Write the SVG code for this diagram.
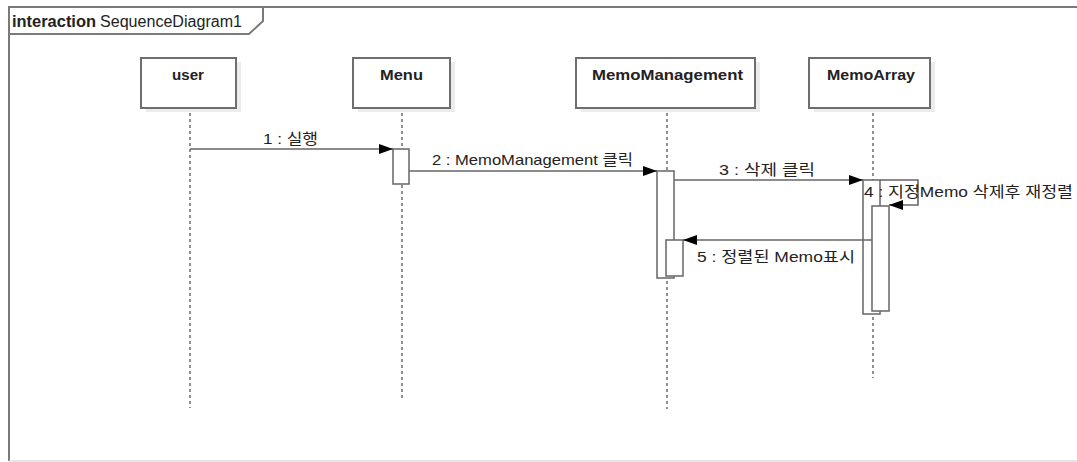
<svg xmlns="http://www.w3.org/2000/svg" width="1077" height="462" viewBox="0 0 1077 462">
<style>
  text { font-family: "Liberation Sans", "Noto Sans CJK KR", sans-serif; fill: #222; }
  .frame { fill: none; stroke: #7a7a7a; stroke-width: 2; }
  .box { fill: #fff; stroke: #6e6e6e; stroke-width: 2; }
  .shadow { fill: #ececec; }
  .name { font-size: 15px; font-weight: bold; }
  .lifeline { stroke: #555; stroke-width: 1.3; stroke-dasharray: 3 3; fill: none; }
  .act { fill: #fff; stroke: #6e6e6e; stroke-width: 1.6; }
  .msg { stroke: #666; stroke-width: 1.6; fill: none; marker-end: url(#arrow); }
  .lbl { font-size: 15px; }
</style>
<defs>
  <marker id="arrow" markerUnits="userSpaceOnUse" markerWidth="14" markerHeight="10" refX="14" refY="5" orient="auto">
    <path d="M0,0 L14,5 L0,10 z" fill="#000"/>
  </marker>
</defs>
<rect width="1077" height="462" fill="#fff"/>
<g id="frame">
  <path class="frame" d="M1078,7 L9,7 L9,461"/>
  <line x1="9" y1="461" x2="1078" y2="461" stroke="#dcdcdc" stroke-width="1.5"/>
  <path class="frame" d="M9,34 L249,34 L263,21 L263,7"/>
  <text x="12" y="27" style="font-size:16px;font-weight:bold" textLength="84" lengthAdjust="spacingAndGlyphs">interaction</text>
  <text x="100" y="27" style="font-size:16px" textLength="142" lengthAdjust="spacingAndGlyphs">SequenceDiagram1</text>
</g>
<g id="lifelines">
  <line class="lifeline" x1="190" y1="107" x2="190" y2="408"/>
  <line class="lifeline" x1="402" y1="107" x2="402" y2="398"/>
  <line class="lifeline" x1="667" y1="107" x2="667" y2="409"/>
  <line class="lifeline" x1="873" y1="107" x2="873" y2="378"/>
</g>
<g id="user">
  <rect class="shadow" x="146" y="62" width="95" height="50"/>
  <rect class="box" x="141" y="58" width="95" height="50"/>
  <text class="name" x="172" y="80" textLength="32" lengthAdjust="spacingAndGlyphs">user</text>
</g>
<g id="menu">
  <rect class="shadow" x="358" y="62" width="97" height="50"/>
  <rect class="box" x="353" y="58" width="97" height="50"/>
  <text class="name" x="380" y="80" textLength="43" lengthAdjust="spacingAndGlyphs">Menu</text>
</g>
<g id="memomanagement">
  <rect class="shadow" x="581" y="62" width="179" height="50"/>
  <rect class="box" x="576" y="58" width="179" height="50"/>
  <text class="name" x="592" y="80" textLength="151" lengthAdjust="spacingAndGlyphs">MemoManagement</text>
</g>
<g id="memoarray">
  <rect class="shadow" x="814" y="62" width="121" height="50"/>
  <rect class="box" x="809" y="58" width="121" height="50"/>
  <text class="name" x="827" y="80" textLength="88" lengthAdjust="spacingAndGlyphs">MemoArray</text>
</g>
<g id="activations">
  <rect class="act" x="393" y="149" width="16" height="35"/>
  <rect class="act" x="657" y="171" width="17" height="107"/>
  <rect class="act" x="666" y="240" width="17" height="36"/>
  <rect class="act" x="863" y="180" width="17" height="134"/>
  <rect class="act" x="872" y="206" width="17" height="105"/>
</g>
<g id="connectors">
  <line class="msg" x1="190" y1="149" x2="393" y2="149"/>
  <line class="msg" x1="409" y1="171" x2="657" y2="171"/>
  <line class="msg" x1="674" y1="180" x2="863" y2="180"/>
  <path class="msg" d="M880,180 L918,180 L918,205 L889,205"/>
  <line class="msg" x1="872" y1="240" x2="683" y2="240"/>
</g>
<g id="labels">
  <text class="lbl" x="263" y="144" textLength="55" lengthAdjust="spacingAndGlyphs">1 : 실행</text>
  <text class="lbl" x="432" y="165" textLength="201" lengthAdjust="spacingAndGlyphs">2 : MemoManagement 클릭</text>
  <text class="lbl" x="719" y="175" textLength="96" lengthAdjust="spacingAndGlyphs">3 : 삭제 클릭</text>
  <text class="lbl" x="864" y="197" textLength="209" lengthAdjust="spacingAndGlyphs">4 : 지정Memo 삭제후 재정렬</text>
  <text class="lbl" x="697" y="262" textLength="158" lengthAdjust="spacingAndGlyphs">5 : 정렬된 Memo표시</text>
</g>
</svg>
